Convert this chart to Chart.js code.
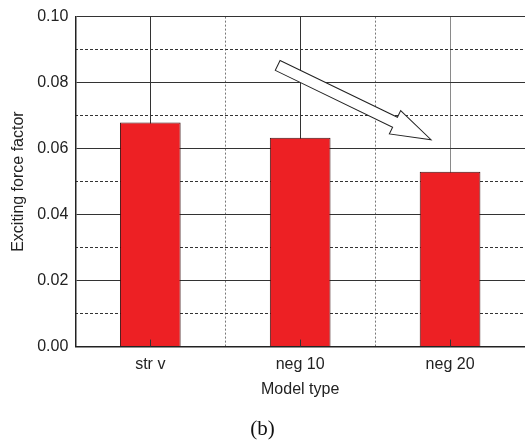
<!DOCTYPE html>
<html>
<head>
<meta charset="utf-8">
<script src="https://cdn.jsdelivr.net/npm/chart.js@4/dist/chart.umd.min.js"></script>
<style>
  html, body { margin: 0; padding: 0; background: #fff; }
  #wrap { width: 525px; height: 443px; }
</style>
</head>
<body>
<div id="wrap"><canvas id="myChart" width="525" height="443"></canvas></div>
<script>
const modelTypes = ["str v", "neg 10", "neg 20"];
const forceFactor = [0.0679, 0.0633, 0.0530];
const yTicks = [0, 0.02, 0.04, 0.06, 0.08, 0.10];
// trend arrow, given as [category index, value] pairs
const arrowFrom = [0.85, 0.0852];
const arrowTo = [1.873, 0.0627];

const sans = "'Liberation Sans', Arial, sans-serif";

const innerTicks = {
  id: "innerTicks",
  afterDatasetsDraw(chart) {
    const ctx = chart.ctx;
    const x = chart.scales.x;
    const bottom = chart.chartArea.bottom;
    ctx.save();
    ctx.strokeStyle = "#333";
    ctx.lineWidth = 1;
    modelTypes.forEach((m, i) => {
      const px = Math.round(x.getPixelForValue(i)) + 0.5;
      ctx.beginPath();
      ctx.moveTo(px, bottom - 7);
      ctx.lineTo(px, bottom);
      ctx.stroke();
    });
    ctx.restore();
  },
};

const trendArrow = {
  id: "trendArrow",
  afterDatasetsDraw(chart) {
    const ctx = chart.ctx;
    const xs = chart.scales.x;
    const ys = chart.scales.y;
    const x0 = xs.getPixelForValue(arrowFrom[0]);
    const y0 = ys.getPixelForValue(arrowFrom[1]);
    const x1 = xs.getPixelForValue(arrowTo[0]);
    const y1 = ys.getPixelForValue(arrowTo[1]);
    const len = Math.hypot(x1 - x0, y1 - y0);
    const shaftW = 5.5, headW = 13, headL = 40;
    ctx.save();
    ctx.translate(x0, y0);
    ctx.rotate(Math.atan2(y1 - y0, x1 - x0));
    ctx.beginPath();
    ctx.moveTo(0, -shaftW);
    ctx.lineTo(len - headL, -shaftW);
    ctx.lineTo(len - headL, -headW);
    ctx.lineTo(len, 0);
    ctx.lineTo(len - headL, headW);
    ctx.lineTo(len - headL, shaftW);
    ctx.lineTo(0, shaftW);
    ctx.closePath();
    ctx.fillStyle = "#fff";
    ctx.fill();
    ctx.strokeStyle = "#222";
    ctx.lineWidth = 1;
    ctx.stroke();
    ctx.restore();
  },
};

const ctx = document.getElementById("myChart").getContext("2d");
const myChart = new Chart(ctx, {
  type: "bar",
  data: {
    labels: modelTypes,
    datasets: [
      {
        label: "Exciting force factor",
        data: forceFactor,
        backgroundColor: "#ED2024",
        borderColor: "#3a1010",
        borderWidth: 1,
        categoryPercentage: 1,
        barPercentage: 0.405,
      },
    ],
  },
  options: {
    responsive: false,
    animation: false,
    layout: { padding: { left: 0, right: 0, top: 6, bottom: 0 } },
    plugins: {
      legend: { display: false },
      tooltip: { enabled: false },
      title: {
        display: true,
        position: "bottom",
        text: "(b)",
        color: "#111",
        font: { family: "'Liberation Serif', 'Times New Roman', serif", size: 21, weight: "normal" },
        padding: { top: 11, bottom: 1 },
      },
    },
    scales: {
      x: {
        offset: true,
        grid: {
          offset: true,
          drawTicks: false,
          lineWidth: 1,
          color: (c) => (c.index === 0 || c.index === modelTypes.length ? "rgba(0,0,0,0)" : "#777"),
        },
        border: { display: true, color: "#222", width: 1.5, dash: [2, 2] },
        ticks: { color: "#222", padding: 8, font: { family: sans, size: 16 } },
        title: {
          display: true,
          text: "Model type",
          color: "#222",
          font: { family: sans, size: 16, lineHeight: 1 },
          padding: { top: 0, bottom: 8 },
        },
      },
      xc: {
        type: "category",
        position: "bottom",
        offset: true,
        grid: {
          offset: false,
          drawTicks: false,
          lineWidth: 1,
          color: (c) => (c.index === 2 ? "#8a8a8a" : "#333"),
        },
        border: { display: false },
        ticks: { display: false },
      },
      y2: {
        position: "left",
        min: 0,
        max: 0.1,
        grid: {
          drawTicks: false,
          lineWidth: 1,
          color: (c) => (c.index % 2 === 1 ? "#333" : "rgba(0,0,0,0)"),
        },
        border: { display: false, dash: [3, 2] },
        ticks: { display: false, stepSize: 0.01 },
      },
      y: {
        position: "left",
        min: 0,
        max: 0.1,
        afterBuildTicks: (axis) => {
          axis.ticks = yTicks.map((v) => ({ value: v }));
        },
        grid: { drawTicks: false, lineWidth: 1, color: "#333" },
        border: { display: true, color: "#222", width: 1.5 },
        ticks: {
          color: "#222",
          padding: 7,
          font: { family: sans, size: 16 },
          callback: (v) => Number(v).toFixed(2),
        },
        title: {
          display: true,
          text: "Exciting force factor",
          color: "#222",
          font: { family: sans, size: 16 },
          padding: { top: 9, bottom: 2 },
        },
      },
    },
  },
  plugins: [innerTicks, trendArrow],
});
</script>
</body>
</html>
